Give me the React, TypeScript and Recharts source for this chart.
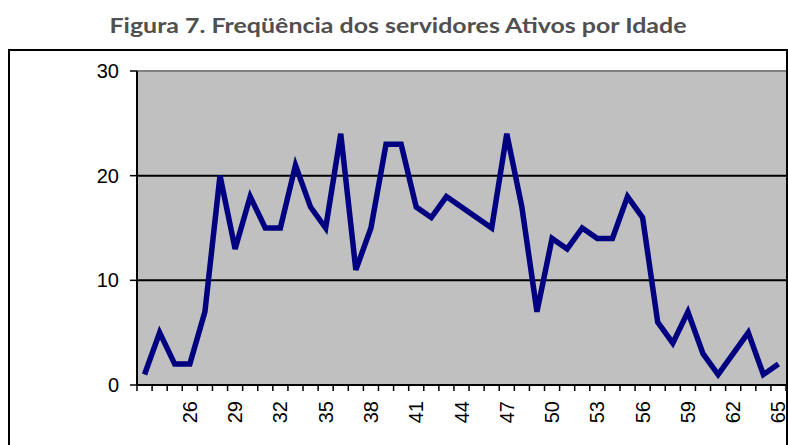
import React from "react";
import { LineChart, Line, XAxis, YAxis, CartesianGrid, ReferenceLine } from "recharts";

const title = "Figura 7. Freqüência dos servidores Ativos por Idade";
const ages = [23,24,25,26,27,28,29,30,31,32,33,34,35,36,37,38,39,40,41,42,43,44,45,46,47,48,49,50,51,52,53,54,55,56,57,58,59,60,61,62,63,64,65];
const counts = [1,5,2,2,7,20,13,18,15,15,21,17,15,24,11,15,23,23,17,16,18,17,16,15,24,17,7,14,13,15,14,14,18,16,6,4,7,3,1,3,5,1,2];
const labelAges = [26,29,32,35,38,41,44,47,50,53,56,59,62,65];
const yTicks = [0,10,20,30];

const data = ages.map((a, i) => ({ age: a, n: counts[i] }));

const W = 788;
const H = 445;
const PLOT_L = 137;
const PLOT_R = 786;
const PLOT_T = 71;
const PLOT_B = 385;
const BAND = (PLOT_R - PLOT_L) / ages.length;

const XTick = (props: any) => {
  const { x, y, payload, index } = props;
  const show = labelAges.includes(payload.value);
  const left = x - BAND / 2;
  return (
    <g>
      <line x1={left} x2={left} y1={y} y2={y + 6} stroke="#000" strokeWidth={1.5} />
      {index === ages.length - 1 ? (
        <line x1={x + BAND / 2} x2={x + BAND / 2} y1={y} y2={y + 6} stroke="#000" strokeWidth={1.5} />
      ) : null}
      {show ? (
        <text
          x={x}
          y={y + 16}
          transform={`rotate(-90 ${x} ${y + 16})`}
          textAnchor="end"
          dy="0.35em"
          fontFamily="Arial, 'Liberation Sans', sans-serif"
          fontSize={20}
          fill="#000"
        >
          {payload.value}
        </text>
      ) : null}
    </g>
  );
};

const YTick = (props: any) => {
  const { x, y, payload } = props;
  return (
    <g>
      <line x1={x - 7} x2={x} y1={y} y2={y} stroke="#000" strokeWidth={1.5} />
      <text
        x={x - 18}
        y={y}
        dy="0.35em"
        textAnchor="end"
        fontFamily="Arial, 'Liberation Sans', sans-serif"
        fontSize={20}
        fill="#000"
      >
        {payload.value}
      </text>
    </g>
  );
};

export default function App() {
  return (
    <div style={{ position: "absolute", left: 0, top: 0, width: W, height: H, background: "#fff", overflow: "hidden" }}>
      <svg width={W} height={50} style={{ position: "absolute", left: 0, top: 0 }}>
        <text
          x={398}
          y={33}
          textAnchor="middle"
          fontFamily="Lato, 'Open Sans', sans-serif"
          fontWeight="bold"
          fontSize={20}
          fill="#505050"
          textLength={577}
          lengthAdjust="spacingAndGlyphs"
        >
          {title}
        </text>
      </svg>
      <div
        style={{
          position: "absolute",
          left: 8,
          top: 49,
          width: 780,
          height: 460,
          border: "2px solid #000",
          boxSizing: "border-box",
        }}
      />
      <div style={{ position: "absolute", left: 0, top: 0 }}>
        <LineChart
          width={W}
          height={H}
          data={data}
          margin={{ top: PLOT_T, right: W - PLOT_R, bottom: 0, left: 0 }}
        >
          <CartesianGrid horizontal={false} vertical={false} fill="#C0C0C0" fillOpacity={1} />
          <XAxis
            dataKey="age"
            interval={0}
            tick={<XTick />}
            tickLine={false}
            tickSize={0}
            tickMargin={0}
            padding={{ left: BAND / 2, right: BAND / 2 }}
            axisLine={{ stroke: "#000", strokeWidth: 2 }}
            height={H - PLOT_B}
          />
          <YAxis
            domain={[0, 30]}
            ticks={yTicks}
            width={PLOT_L}
            tick={<YTick />}
            tickLine={false}
            tickSize={0}
            tickMargin={0}
            axisLine={{ stroke: "#000", strokeWidth: 2 }}
            interval={0}
          />
          <ReferenceLine y={30} stroke="#808080" strokeWidth={2} />
          <ReferenceLine y={10} stroke="#000" strokeWidth={2} />
          <ReferenceLine y={20} stroke="#000" strokeWidth={2} />
          <Line
            type="linear"
            dataKey="n"
            stroke="#000080"
            strokeWidth={5.5}
            dot={false}
            isAnimationActive={false}
          />
        </LineChart>
      </div>
    </div>
  );
}
